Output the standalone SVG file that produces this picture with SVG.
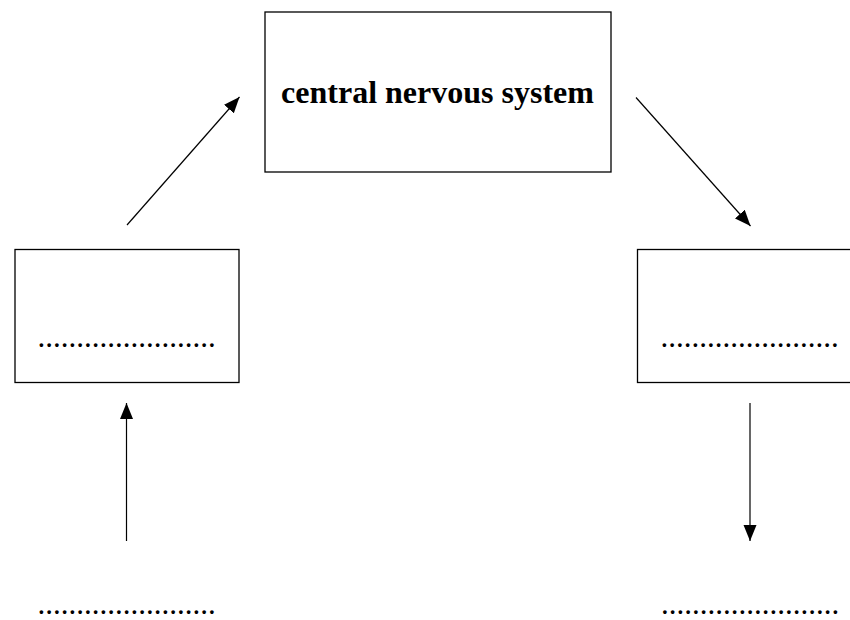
<svg xmlns="http://www.w3.org/2000/svg" width="850" height="620" viewBox="0 0 850 620">
  <style>
    .box { fill: #ffffff; stroke: #000000; stroke-width: 1.3; }
    .title { font-family: "Liberation Serif", "Times New Roman", serif; font-weight: bold; font-size: 32px; fill: #000000; }
    .dots { font-family: "Liberation Serif", "Times New Roman", serif; font-size: 31px; fill: #000000; }
    .conn { stroke: #000000; stroke-width: 1.2; fill: none; marker-end: url(#arrow); }
  </style>
  <defs>
    <marker id="arrow" markerUnits="userSpaceOnUse" markerWidth="17" markerHeight="14" refX="16" refY="6.5" orient="auto">
      <path d="M0,0 L16,6.5 L0,13 Z" fill="#000000"/>
    </marker>
  </defs>
  <rect width="850" height="620" fill="#ffffff"/>
  <g id="cns">
    <rect class="box" x="265" y="12" width="346" height="160"/>
    <text class="title" x="437.5" y="103" text-anchor="middle">central nervous system</text>
  </g>
  <g id="left-box">
    <rect class="box" x="15" y="249.5" width="224" height="133"/>
    <text class="dots" x="37.5" y="347">.......................</text>
  </g>
  <g id="right-box">
    <rect class="box" x="637.5" y="249.5" width="230" height="133"/>
    <text class="dots" x="660.5" y="347">.......................</text>
  </g>
  <g id="left-bottom">
    <text class="dots" x="37.5" y="614">.......................</text>
  </g>
  <g id="right-bottom">
    <text class="dots" x="661" y="614">.......................</text>
  </g>
  <g id="connectors">
    <line class="conn" x1="127" y1="225" x2="239.5" y2="97"/>
    <line class="conn" x1="636" y1="97.5" x2="750.5" y2="226"/>
    <line class="conn" x1="126.5" y1="541" x2="126.5" y2="403"/>
    <line class="conn" x1="750" y1="403" x2="750" y2="541"/>
  </g>
</svg>
